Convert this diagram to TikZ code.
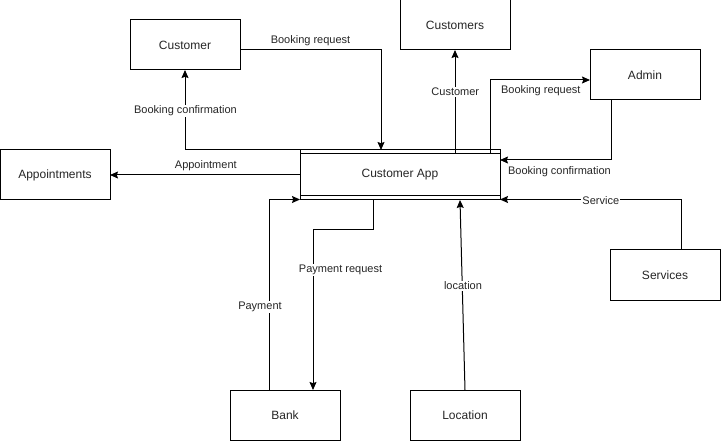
\documentclass[tikz,border=0pt]{standalone}
\usepackage{fontspec}
\setmainfont{Liberation Sans}
\usetikzlibrary{arrows.meta}
\begin{document}
\begin{tikzpicture}[x=1pt,y=-1pt,
  box/.style={draw, line width=1pt, minimum width=110pt, minimum height=50pt, inner sep=0pt, outer sep=0pt, font=\fontsize{12}{14}\selectfont, text=black!85},
  arr/.style={draw, line width=1pt, -{Stealth[length=8pt,width=7pt,inset=1.2pt]}},
  lbl/.style={fill=white, inner sep=1pt, font=\fontsize{11}{13}\selectfont, text=black!85}]
\useasboundingbox (0,0) rectangle (721,441);
\fill[white] (0,0) rectangle (721,441);
% boxes
\node[box] (appts) at (55,175) {Appointments};
\node[box] (cust) at (185,45) {Customer};
\node[box] (custs) at (455,25) {Customers};
\node[box] (admin) at (645,75) {Admin};
\node[box, minimum width=200pt] (app) at (400,175) {Customer App};
\node[box] (serv) at (665,275) {Services};
\node[box] (bank) at (285,415) {Bank};
\node[box] (loc) at (465,415) {Location};
\draw[line width=1pt] ([yshift=-4pt]app.north west) -- ([yshift=-4pt]app.north east);
\draw[line width=1pt] ([yshift=4pt]app.south west) -- ([yshift=4pt]app.south east);
\coordinate (appin) at ([yshift=-4pt]app.north);
% connectors
\draw[arr] (cust.east |- 0,50) -| (app.north -| 381,0);
\draw[arr] (app.north west) -| (cust.south);
\draw[arr] (app.west) -- (appts.east);
\draw[arr] (appin -| 455,0) -- (custs.south);
\draw[arr] (appin -| 490,0) |- (admin.west |- 0,80);
\draw[arr] (admin.south -| 611,0) |- (app.east |- 0,160);
\draw[arr] (serv.north -| 681,0) |- (app.east |- 0,199.5);
\draw[arr] (bank.north -| 269,0) |- (app.west |- 0,199.5);
\draw[arr] (app.south -| 373,0) |- (313,230) -- (bank.north -| 313,0);
\draw[arr] (loc.north) -- (app.south -| 460,0);
% labels
\node[lbl] (l1) at (310.5,41) {Booking request};
\node[lbl] (l2) at (185.5,110.7) {Booking confirmation};
\node[lbl] (l3) at (205.8,165.7) {Appointment};
\node[lbl] (l4) at (455.3,91.7) {Customer};
\node[lbl] (l5) at (540.8,90.7) {Booking request};
\node[lbl] (l6) at (559.5,172) {Booking confirmation};
\node[lbl] (l7) at (600.8,201) {Service};
\node[lbl] (l8) at (260,307) {Payment};
\node[lbl] (l9) at (340.5,270) {Payment request};
\node[lbl] (l10) at (463,286) {location};
\end{tikzpicture}
\end{document}
